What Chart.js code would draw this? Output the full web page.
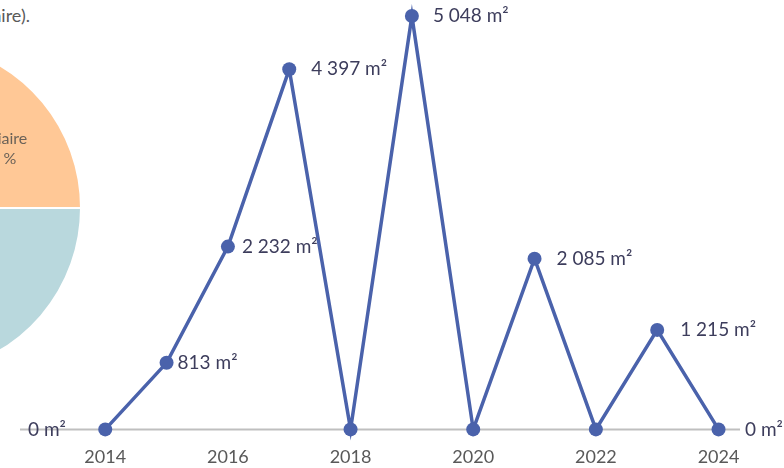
<!DOCTYPE html>
<html>
<head>
<meta charset="utf-8">
<script src="https://cdn.jsdelivr.net/npm/chart.js@4.4.1/dist/chart.umd.min.js"></script>
<style>
  body { margin: 0; background: #fff; overflow: hidden; }
  #wrap { position: relative; width: 784px; height: 468px; overflow: hidden; }
  #lineChart { position: absolute; left: 0; top: 0; }
  #pieChart { position: absolute; left: -255px; top: 38px; }
  #note { position: absolute; right: 754px; top: 4px; white-space: nowrap;
          font: 18px Lato, sans-serif; color: #595959; }
</style>
</head>
<body>
<div id="wrap">
  <div id="note">Répartition des surfaces autorisées (hors tertiaire).</div>
  <canvas id="pieChart" width="340" height="340"></canvas>
  <canvas id="lineChart" width="784" height="468"></canvas>
</div>
<script>
// data
var years = [2014, 2015, 2016, 2017, 2018, 2019, 2020, 2021, 2022, 2023, 2024];
var surfaces = [0, 813, 2232, 4397, 0, 5048, 0, 2085, 0, 1215, 0];
var xTicks = [2014, 2016, 2018, 2020, 2022, 2024];
var xMin = 2012.61, xMax = 2024.35;

var pieLabels = ["Logement", "Autre", "Tertiaire"];
var pieValues = [45, 33, 22];

function fmt(v) {
  return String(v).replace(/\B(?=(\d{3})+(?!\d))/g, " ") + " m²";
}

// labels to the right of each point (zeros of the main series are not labelled)
var pointLabels = {
  id: "pointLabels",
  afterDatasetsDraw: function (chart, args, opts) {
    var ctx = chart.ctx;
    ctx.save();
    ctx.font = "19px Lato, sans-serif";
    ctx.fillStyle = "#3d3d5c";
    ctx.textBaseline = "middle";
    ctx.textAlign = "left";
    chart.data.datasets.forEach(function (ds, di) {
      var meta = chart.getDatasetMeta(di);
      var offs = opts.offsets[di];
      meta.data.forEach(function (pt, i) {
        var val = ds.data[i].y;
        if (di === 0 && val === 0) return;
        ctx.fillText(fmt(val), pt.x + offs[i], pt.y);
      });
    });
    ctx.restore();
  }
};

var ctxL = document.getElementById("lineChart").getContext("2d");
var myLineChart = new Chart(ctxL, {
  type: "line",
  data: {
    datasets: [
      {
        label: "surface",
        data: years.map(function (y, i) { return { x: y, y: surfaces[i] }; }),
        borderColor: "#4a62ab",
        backgroundColor: "#4a62ab",
        borderWidth: 3.5,
        pointRadius: 7,
        pointBorderWidth: 0,
        clip: false,
        order: 0
      },
      {
        label: "base",
        data: [{ x: xMin, y: 0 }, { x: xMax, y: 0 }],
        borderColor: "#bfbfbf",
        borderWidth: 2,
        pointRadius: 0,
        clip: false,
        order: 1
      }
    ]
  },
  options: {
    responsive: false,
    animation: false,
    layout: { padding: { left: 20, right: 44, top: 16, bottom: -9 } },
    plugins: {
      legend: { display: false },
      tooltip: { enabled: false },
      pointLabels: {
        offsets: [
          [0, 11, 14, 22, 0, 21, 0, 22, 0, 23, 0],
          [8, 5]
        ]
      }
    },
    scales: {
      x: {
        type: "linear",
        min: xMin,
        max: xMax,
        afterBuildTicks: function (scale) {
          scale.ticks = xTicks.map(function (v) { return { value: v }; });
        },
        grid: { display: false },
        border: { display: false },
        ticks: {
          padding: 9,
          autoSkip: false,
          maxRotation: 0,
          color: "#595959",
          font: { family: "Lato", size: 18 },
          callback: function (v) { return String(v); }
        }
      },
      y: { display: false, min: 0, max: 5048 }
    }
  },
  plugins: [pointLabels]
});

// partial pie on the left
var pieText = {
  id: "pieText",
  afterDatasetsDraw: function (chart) {
    var arc = chart.getDatasetMeta(0).data[2];
    var mid = (arc.startAngle + arc.endAngle) / 2;
    var r = arc.outerRadius * 0.63;
    var x = arc.x + Math.cos(mid) * r + 3, y = arc.y + Math.sin(mid) * r;
    var ctx = chart.ctx;
    ctx.save();
    ctx.font = "16px Lato, sans-serif";
    ctx.fillStyle = "#6b6258";
    ctx.textAlign = "center";
    ctx.textBaseline = "middle";
    ctx.fillText(pieLabels[2], x, y - 2);
    ctx.fillText(pieValues[2] + " %", x, y + 18);
    ctx.restore();
  }
};

var ctxP = document.getElementById("pieChart").getContext("2d");
new Chart(ctxP, {
  type: "pie",
  data: {
    labels: pieLabels,
    datasets: [{
      data: pieValues,
      backgroundColor: ["#b9d8dd", "#c9c9c9", "#ffc896"],
      borderColor: "#ffffff",
      borderWidth: 2
    }]
  },
  options: {
    responsive: false,
    animation: false,
    rotation: 90,
    layout: { padding: 3 },
    plugins: { legend: { display: false }, tooltip: { enabled: false } }
  },
  plugins: [pieText]
});
</script>
</body>
</html>
